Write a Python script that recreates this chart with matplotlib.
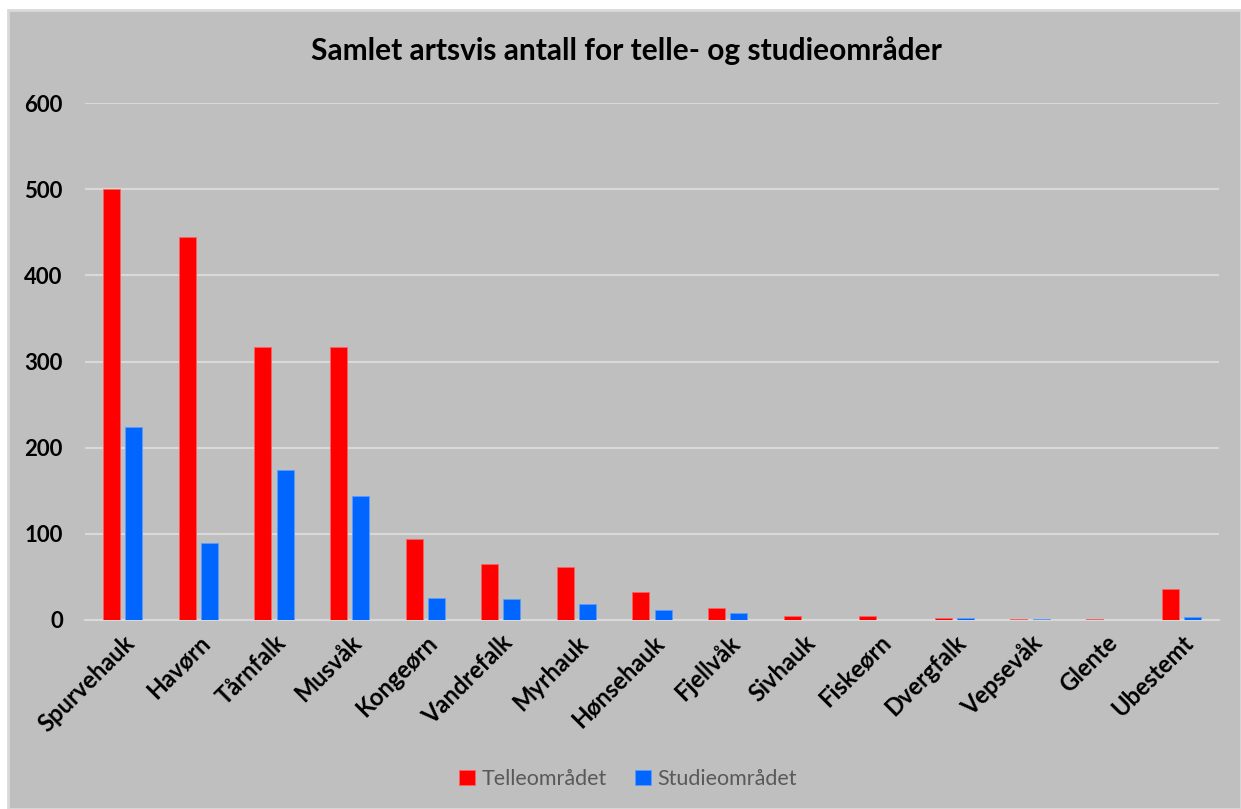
import numpy as np
from matplotlib import pyplot as plt
from matplotlib.patches import Rectangle

species = ["Spurvehauk", "Havørn", "Tårnfalk", "Musvåk", "Kongeørn", "Vandrefalk",
           "Myrhauk", "Hønsehauk", "Fjellvåk", "Sivhauk", "Fiskeørn", "Dvergfalk",
           "Vepsevåk", "Glente", "Ubestemt"]
telle = [500, 444, 317, 317, 94, 65, 61, 32, 14, 5, 5, 2, 1, 1, 36]
studie = [224, 89, 174, 144, 26, 24, 19, 12, 8, 0, 0, 2, 1, 0, 3]

RED = "#FF0000"
BLUE = "#0066FF"
BG = "#BFBFBF"
GRID = "#D9D9D9"

plt.rcParams["font.family"] = ["Lato", "DejaVu Sans"]

fig = plt.figure(figsize=(12.41, 8.09), dpi=100)
fig.patch.set_facecolor("white")
# grey chart area with a light frame
fig.patches.append(Rectangle((8 / 1241, 0), 1 - 8 / 1241, 1 - 10 / 809,
                             transform=fig.transFigure, facecolor=BG,
                             edgecolor=GRID, linewidth=2, zorder=-10))

ax = fig.add_axes([85 / 1241, 1 - 620 / 809, (1219 - 85) / 1241, (620 - 103) / 809])
ax.set_facecolor(BG)

x = np.arange(len(species))
w = 0.225
ax.bar(x - 0.146, telle, w, color=RED, edgecolor="#FF6060", linewidth=0.6,
       label="Telleområdet", zorder=3)
ax.bar(x + 0.146, studie, w, color=BLUE, edgecolor="#5A9CFF", linewidth=0.6,
       label="Studieområdet", zorder=3)

ax.set_xlim(-0.5, len(species) - 0.5)
ax.set_ylim(0, 600)
ax.set_yticks(range(0, 601, 100))
ax.yaxis.grid(True, color=GRID, linewidth=1.5, zorder=0)
ax.set_axisbelow(True)
for s in ["top", "right", "left"]:
    ax.spines[s].set_visible(False)
ax.spines["bottom"].set_color(GRID)
ax.spines["bottom"].set_linewidth(1.5)

ax.tick_params(axis="y", length=0, pad=16, labelsize=16)
ax.tick_params(axis="x", length=0, pad=8, labelsize=17)
ax.set_xticks(x)
ax.set_xticklabels(species, rotation=45, ha="right", rotation_mode="anchor")
for lab in ax.get_xticklabels() + ax.get_yticklabels():
    lab.set_fontweight("bold")
    lab.set_color("black")

fig.text(0.505, 1 - 51 / 809, "Samlet artsvis antall for telle- og studieområder",
         ha="center", va="center", fontsize=21.5, fontweight="bold", color="black")

leg = fig.legend(loc="center", bbox_to_anchor=(0.506, 1 - 779 / 809), ncol=2,
                 frameon=False, fontsize=15.5, handlelength=0.75, handleheight=0.75,
                 handletextpad=0.3, columnspacing=1.3)
for t in leg.get_texts():
    t.set_color("#595959")

plt.savefig("out.png", dpi=100, facecolor=fig.get_facecolor())
